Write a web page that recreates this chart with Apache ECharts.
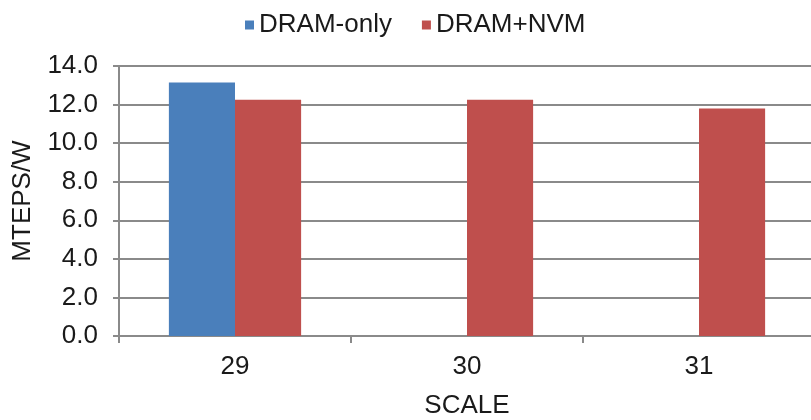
<!DOCTYPE html>
<html>
<head>
<meta charset="utf-8">
<script src="https://cdn.jsdelivr.net/npm/echarts@6/dist/echarts.min.js"></script>
<style>
  html, body { margin: 0; padding: 0; background: #fff; }
  #chart { width: 811px; height: 420px; }
</style>
</head>
<body>
<div id="chart"></div>
<script>
// Graph500 energy efficiency per problem scale
const scales = ['29', '30', '31'];
const dramOnly = [13.15, null, null];
const dramNvm = [12.25, 12.25, 11.8];
const yTicks = { min: 0, max: 14, interval: 2 };

const textColor = '#1a1a1a';
const lineColor = '#8a8a8a';
const font = '"Liberation Sans", Arial, sans-serif';
const fontSize = 26;

const chart = echarts.init(document.getElementById('chart'), null, { renderer: 'canvas' });
chart.setOption({
  animation: false,
  textStyle: { fontFamily: font, color: textColor },
  legend: {
    top: 7,
    left: 240,
    itemWidth: 9,
    itemHeight: 9,
    itemGap: 30,
    icon: 'rect',
    textStyle: { fontSize: fontSize, color: textColor, fontFamily: font },
    data: ['DRAM-only', 'DRAM+NVM']
  },
  // plot area runs slightly past the right edge of the canvas
  grid: { left: 119, right: -4, top: 66, bottom: 84, containLabel: false, outerBoundsMode: 'none' },
  xAxis: {
    type: 'category',
    data: scales,
    name: 'SCALE',
    nameLocation: 'middle',
    nameGap: 57,
    nameTextStyle: { fontSize: fontSize, color: textColor, fontFamily: font },
    axisLine: { lineStyle: { color: lineColor, width: 2 } },
    axisTick: { show: true, length: 7, lineStyle: { color: lineColor, width: 2 } },
    axisLabel: { fontSize: fontSize, color: textColor, margin: 18, fontFamily: font }
  },
  yAxis: {
    type: 'value',
    min: yTicks.min,
    max: yTicks.max,
    interval: yTicks.interval,
    name: 'MTEPS/W',
    nameLocation: 'middle',
    nameGap: 83,
    nameTextStyle: { fontSize: fontSize, color: textColor, fontFamily: font },
    axisLine: { show: true, lineStyle: { color: lineColor, width: 2 } },
    axisTick: { show: true, length: 6, lineStyle: { color: lineColor, width: 2 } },
    axisLabel: {
      fontSize: fontSize, color: textColor, margin: 21, fontFamily: font,
      formatter: v => v.toFixed(1)
    },
    splitLine: { lineStyle: { color: lineColor, width: 2 } }
  },
  series: [
    {
      name: 'DRAM-only',
      type: 'bar',
      data: dramOnly,
      barGap: '0%',
      barCategoryGap: '43%',
      itemStyle: { color: '#4A7FBB' }
    },
    {
      name: 'DRAM+NVM',
      type: 'bar',
      data: dramNvm,
      barGap: '0%',
      barCategoryGap: '43%',
      itemStyle: { color: '#BF4F4D' }
    }
  ]
});
</script>
</body>
</html>
